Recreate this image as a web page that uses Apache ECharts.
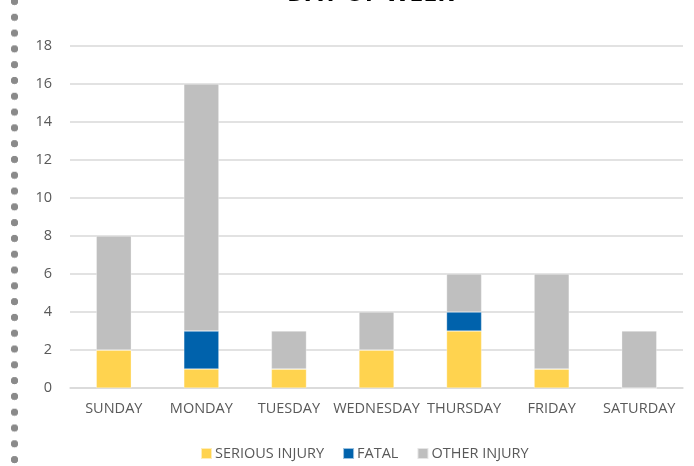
<!DOCTYPE html>
<html>
<head>
<meta charset="utf-8">
<script src="https://cdn.jsdelivr.net/npm/echarts@6/dist/echarts.min.js"></script>
<style>
html,body{margin:0;padding:0;background:#fff;}
#wrap{position:relative;width:694px;height:466px;overflow:hidden;}
#dots{position:absolute;left:10px;top:-3px;width:9px;height:480px;
  background-image:radial-gradient(circle at 4.5px 4.5px,#8a8a8a 3.4px,transparent 4px);
  background-size:9px 15.8px;background-repeat:repeat-y;}
#chart{position:absolute;left:0;top:0;width:694px;height:466px;}
</style>
</head>
<body>
<div id="wrap">
<div id="chart"></div>
<div id="dots"></div>
</div>
<script>
const categories = ['SUNDAY','MONDAY','TUESDAY','WEDNESDAY','THURSDAY','FRIDAY','SATURDAY'];
const seriousInjury = [2,1,1,2,3,1,0];
const fatal = [0,2,0,0,1,0,0];
const otherInjury = [6,13,2,2,2,5,3];
const titleText = 'DAY OF WEEK';

const chart = echarts.init(document.getElementById('chart'));
const font = '"Open Sans", "Noto Sans", sans-serif';
function bar(name, data, color){
  return {name, type:'bar', stack:'total', data, barWidth:35,
    itemStyle:{color, borderColor:'rgba(255,255,255,0.6)', borderWidth:0.5}};
}
chart.setOption({
  animation:false,
  title:{text:titleText, left:282, top:-24,
    textStyle:{fontFamily:font, fontWeight:'bold', fontSize:25, color:'#000'}},
  grid:{left:70, right:11, top:46, bottom:78, containLabel:false},
  legend:{bottom:0, left:195, itemWidth:11, itemHeight:11, itemGap:18,
    icon:'rect',
    textStyle:{fontFamily:font, fontSize:14.5, color:'#595959', padding:[0,0,0,-2]}},
  xAxis:{type:'category', data:categories,
    axisLine:{show:true, lineStyle:{color:'#d9d9d9', width:1.5}},
    axisTick:{show:false},
    axisLabel:{fontFamily:font, fontSize:14.5, color:'#595959', margin:13, interval:0}},
  yAxis:{type:'value', min:0, max:18, interval:2,
    axisLine:{show:false}, axisTick:{show:false},
    splitLine:{lineStyle:{color:'#d9d9d9', width:1.5}},
    axisLabel:{fontFamily:font, fontSize:14.5, color:'#595959', margin:18}},
  series:[
    bar('SERIOUS INJURY', seriousInjury, '#FFD34F'),
    bar('FATAL', fatal, '#0062AC'),
    bar('OTHER INJURY', otherInjury, '#BFBFBF')
  ]
});
</script>
</body>
</html>
